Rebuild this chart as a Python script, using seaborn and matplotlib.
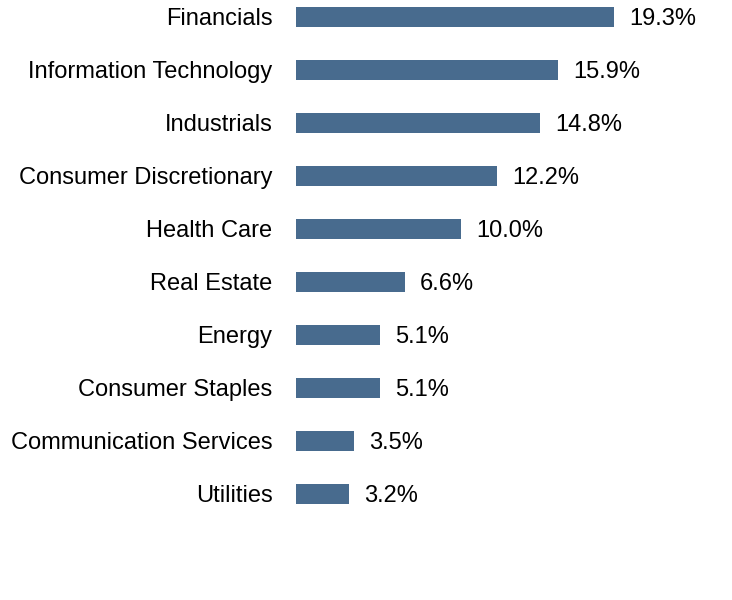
#!/usr/bin/env python
import pandas as pd
import matplotlib
import matplotlib.pyplot as plt
import seaborn as sns

sectors = ['Financials', 'Information Technology', 'Industrials', 'Consumer Discretionary',
           'Health Care', 'Real Estate', 'Energy', 'Consumer Staples',
           'Communication Services', 'Utilities']
weights = [19.3, 15.9, 14.8, 12.2, 10.0, 6.6, 5.1, 5.1, 3.5, 3.2]

df = pd.DataFrame({'sector': sectors, 'weight': weights})

sns.set_style('white')
matplotlib.rcParams['font.family'] = ['Liberation Sans', 'DejaVu Sans']
matplotlib.rcParams.update({'font.size': 17, 'text.color': 'black',
                            'ytick.color': 'black', 'ytick.labelcolor': 'black'})

fig = plt.figure(figsize=(7.32, 6.0), dpi=100)
ax = fig.add_axes([296/732, 0.0, 24*16.48/732, 1.0])
sns.barplot(ax=ax, data=df, x='weight', y='sector', color='#486b8e',
            saturation=1, width=0.38, orient='h', linewidth=0)

ax.set_xlim(0, 24)
ax.set_ylim(11.0, -0.32)
labels = ax.bar_label(ax.containers[0], fmt='%.1f%%', padding=11, fontsize=17, color='black')
for t in labels:
    t.set_va('center_baseline')
ax.set_xlabel('')
ax.set_ylabel('')
ax.set_xticks([])
ax.tick_params(axis='y', length=0, pad=17, labelsize=17, labelcolor='black')
sns.despine(ax=ax, left=True, bottom=True)

plt.savefig('out.png', dpi=100)
